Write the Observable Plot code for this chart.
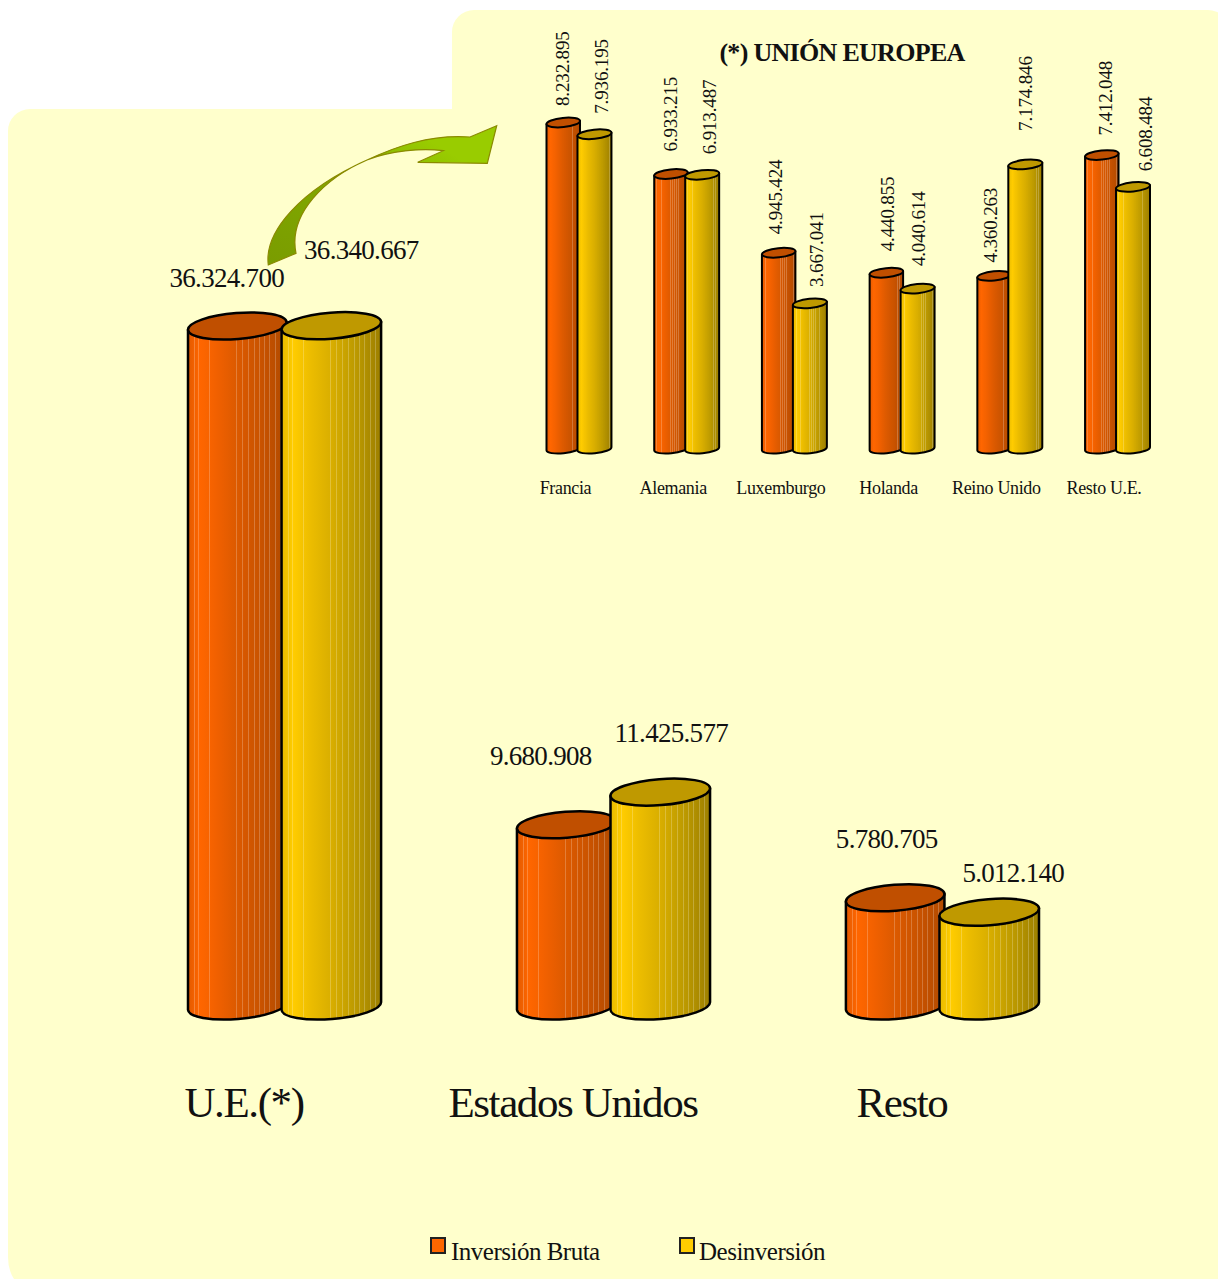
<!DOCTYPE html>
<html lang="es">
<head>
<meta charset="utf-8">
<script src="https://cdn.jsdelivr.net/npm/d3@7"></script>
<script src="https://cdn.jsdelivr.net/npm/@observablehq/plot@0.6"></script>
<style>
  html, body { margin: 0; padding: 0; background: #fff; }
  #page { position: relative; width: 1218px; height: 1279px; overflow: hidden; font-family: "Liberation Serif", serif; color: #111; }
  #page > svg { position: absolute; left: 0; top: 0; }
  .bigval text { letter-spacing: -0.7px; }
  .bigcat text { letter-spacing: -1.4px; }
  .smallcat text { letter-spacing: -0.35px; }
  .euval text { letter-spacing: -0.15px; }
  .title { position: absolute; left: 642px; width: 400px; top: 37px; text-align: center; font-weight: bold; font-size: 26px; line-height: 32px; letter-spacing: -0.7px; }
  .lg { position: absolute; top: 1237px; font-size: 25px; line-height: 30px; letter-spacing: -0.5px; white-space: nowrap; }
  .sw { position: absolute; top: 1237px; width: 12px; height: 13px; border: 2px solid #222; }
</style>
</head>
<body>
<div id="page">
  <svg width="1218" height="1279" viewBox="0 0 1218 1279">
    <defs>
      <linearGradient id="arrowFill" x1="0" y1="1" x2="1" y2="0">
        <stop offset="0" stop-color="#7a9c00"/>
        <stop offset="0.45" stop-color="#80a800"/>
        <stop offset="0.8" stop-color="#99cc00"/>
        <stop offset="1" stop-color="#99cc00"/>
      </linearGradient>
    </defs>
    <path fill="#FFFFCC" d="M452 109 V32 A22 22 0 0 1 474 10 H1208 A22 22 0 0 1 1230 32 V1279 H14 Q8 1270 8 1257 V131 A22 22 0 0 1 30 109 Z"/>
    <path fill="url(#arrowFill)" stroke="#8a8a00" stroke-width="1.2" d="M268.3 265 C264 232 300 190 367 160 C395 147 430 134 470 137 L496.7 125.7 L487.3 163.3 L417.7 162.3 L443.3 150.7 C420 148 390 151 367 160 C325 178 288 214 296 253.3 Z"/>
  </svg>
</div>
<script>
// Main chart
const categories = ["U.E.(*)", "Estados Unidos", "Resto"];
const series = ["Inversión Bruta", "Desinversión"];
const inversion = [36324700, 9680908, 5780705];
const desinversion = [36340667, 11425577, 5012140];

// Inset: Unión Europea
const countries = ["Francia", "Alemania", "Luxemburgo", "Holanda", "Reino Unido", "Resto U.E."];
const euInversion = [8232895, 6933215, 4945424, 4440855, 4360263, 7412048];
const euDesinversion = [7936195, 6913487, 3667041, 4040614, 7174846, 6608484];

// Label nudges, per bar [dx, dy]
const mainNudge = [[-10, -48], [28, -76], [-25, -69], [9, -59], [-8, -59], [22, -39]];
const euNudge = [[0, -17], [6, -21], [0, -23], [6, -21], [-3, -19], [6, -17],
                 [2, -22], [0, -23], [-3, -14], [-1, -34], [4, -20], [12, -16]];

const colors = ["#FF6600", "#FFCC00"];
const caps = ["#C04F00", "#BF9900"];
const lineFracs = [0.07, 0.11, 0.22, 0.49, 0.55, 0.61, 0.67, 0.73, 0.78, 0.83, 0.89, 0.94];
const shade = [
  ["#E25A00", "#FF6600", "#F06000", "#DC5A00", "#C85200", "#B04A00"],
  ["#E8BA00", "#FFCC00", "#EBBC00", "#D9AE00", "#BC9900", "#9C7F00"]
];
const shadeAt = [0, 0.12, 0.3, 0.5, 0.75, 1];

const fmt = d3.formatLocale({decimal: ",", thousands: ".", grouping: [3]}).format(",d");

function tidy(groups, a, b) {
  return groups.flatMap((g, i) => [
    {group: g, serie: series[0], value: a[i]},
    {group: g, serie: series[1], value: b[i]}
  ]);
}
const mainData = tidy(categories, inversion, desinversion);
const euData = tidy(countries, euInversion, euDesinversion);

function gradientDefs() {
  const ns = "http://www.w3.org/2000/svg";
  const defs = document.querySelector("#page svg defs");
  shade.forEach((stops, k) => {
    const ramp = d3.scaleLinear().domain(shadeAt).range(stops);
    const lg = document.createElementNS(ns, "linearGradient");
    lg.setAttribute("id", "cyl" + k);
    const add = (o, c) => {
      const s = document.createElementNS(ns, "stop");
      s.setAttribute("offset", o);
      s.setAttribute("stop-color", c);
      lg.appendChild(s);
    };
    let stopsOut = shadeAt.map(o => [o, ramp(o)]);
    lineFracs.forEach(f => {
      const c = ramp(f), light = d3.interpolateRgb(c, "#fff")(0.22);
      stopsOut.push([f - 0.005, c], [f - 0.005, light], [f + 0.005, light], [f + 0.005, c]);
    });
    stopsOut.sort((p, q) => p[0] - q[0]).forEach(([o, c]) => add(o, c));
    defs.appendChild(lg);
  });
}
gradientDefs();

// A bar whose rectangle from the x and y scales is drawn as a tilted cylinder
function cylinder(data, {ry, tilt, over, sw}) {
  return (index, scales, values) => {
    const g = d3.create("svg:g");
    const raw = scales.x.bandwidth;
    const bw = typeof raw === "function" ? raw() : raw;
    for (const i of index) {
      const k = series.indexOf(data[i].serie);
      const xa = values.x[i] - (k === 1 ? over[1] : 0);
      const xb = values.x[i] + bw + (k === 0 ? over[0] : 0);
      const yTop = Math.min(values.y1[i], values.y2[i]);
      const yBot = Math.max(values.y1[i], values.y2[i]);
      const hw = (xb - xa) / 2;
      const t = hw * tilt;
      const a = Math.hypot(hw, t);
      const rot = -Math.atan(tilt) * 180 / Math.PI;
      g.append("path")
        .attr("fill", `url(#cyl${k})`)
        .attr("stroke", "#000").attr("stroke-width", sw).attr("stroke-linejoin", "round")
        .attr("d", `M${xa} ${yTop + t}L${xb} ${yTop - t}L${xb} ${yBot - t}A${a} ${ry} ${rot} 0 1 ${xa} ${yBot + t}Z`);
      g.append("path")
        .attr("fill", caps[k])
        .attr("stroke", "#000").attr("stroke-width", sw)
        .attr("d", `M${xa} ${yTop + t}A${a} ${ry} ${rot} 1 1 ${xb} ${yTop - t}A${a} ${ry} ${rot} 1 1 ${xa} ${yTop + t}Z`);
    }
    return g.node();
  };
}

const baseStyle = {background: "transparent", overflow: "visible"};

const mainPlot = Plot.plot({
  width: 1218, height: 1279,
  marginLeft: 188, marginRight: 179, marginTop: 0, marginBottom: 0,
  style: baseStyle,
  fx: {domain: categories, paddingInner: 0.413, paddingOuter: 0, axis: null, round: false},
  x: {domain: series, padding: 0, axis: null, round: false},
  y: {domain: [0, 36340667], range: [1006, 325.7], axis: null},
  marks: [
    Plot.barY(mainData, {
      fx: "group", x: "serie", y1: () => 0, y2: "value",
      render: cylinder(mainData, {ry: 13, tilt: 0.08, over: [2, 3], sw: 2.5})
    }),
    ...mainData.map((d, i) => Plot.text([d], {
      fx: "group", x: "serie", y: "value", text: v => fmt(v.value),
      dx: mainNudge[i][0], dy: mainNudge[i][1],
      fontSize: 27, fontFamily: "Liberation Serif", fill: "#111", className: "bigval"
    })),
    Plot.text(categories, {
      fx: d => d, y: () => 0, text: d => d, dx: -41, dy: 97,
      fontSize: 43, fontFamily: "Liberation Serif", fill: "#111", className: "bigcat"
    })
  ]
});

const euPlot = Plot.plot({
  width: 1218, height: 1279,
  marginLeft: 546.5, marginRight: 68, marginTop: 0, marginBottom: 0,
  style: baseStyle,
  fx: {domain: countries, paddingInner: 0.397, paddingOuter: 0, axis: null, round: false},
  x: {domain: series, padding: 0, axis: null, round: false},
  y: {domain: [0, 8232895], range: [448.7, 122.5], axis: null},
  marks: [
    Plot.barY(euData, {
      fx: "group", x: "serie", y1: () => 0, y2: "value",
      render: cylinder(euData, {ry: 4.6, tilt: 0.1, over: [1, 1.5], sw: 2})
    }),
    ...euData.map((d, i) => Plot.text([d], {
      fx: "group", x: "serie", y: "value", text: v => fmt(v.value),
      dx: euNudge[i][0], dy: euNudge[i][1],
      rotate: -90, textAnchor: "start",
      fontSize: 19, fontFamily: "Liberation Serif", fill: "#111", className: "euval"
    })),
    Plot.text(countries, {
      fx: d => d, y: () => 0, text: d => d, dx: -14, dy: 39.5,
      fontSize: 18, fontFamily: "Liberation Serif", fill: "#111", className: "smallcat"
    })
  ]
});

const page = document.getElementById("page");
page.append(mainPlot, euPlot);

const title = document.createElement("div");
title.className = "title";
title.textContent = "(*) UNIÓN EUROPEA";
page.append(title);

[[430, 451], [679, 699]].forEach(([sx, tx], k) => {
  const sw = document.createElement("div");
  sw.className = "sw";
  sw.style.left = sx + "px";
  sw.style.background = colors[k];
  const t = document.createElement("div");
  t.className = "lg";
  t.style.left = tx + "px";
  t.textContent = series[k];
  page.append(sw, t);
});
</script>
</body>
</html>
